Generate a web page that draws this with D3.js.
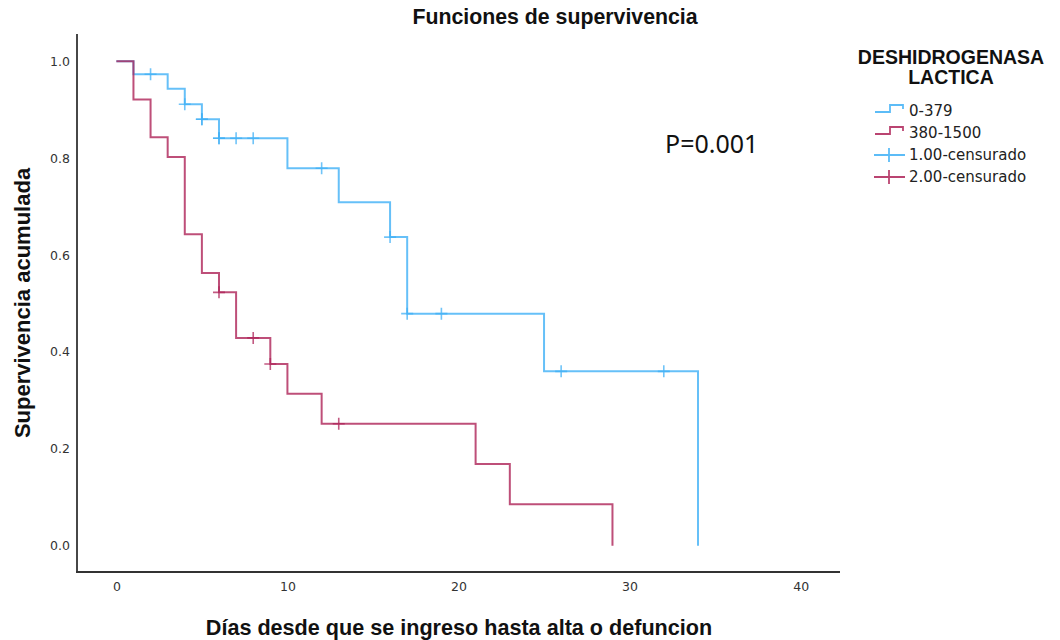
<!DOCTYPE html>
<html>
<head>
<meta charset="utf-8">
<script src="https://cdn.jsdelivr.net/npm/d3@7"></script>
<style>
	body { margin: 0; background: #fff; }
	svg text { font-family: "DejaVu Sans", sans-serif; }
	svg text.bold { font-family: "Liberation Sans", Arial, sans-serif; font-weight: bold; }
</style>
</head>
<body>
<div id="idContent"></div>
<script>
// Kaplan-Meier steps
var aBlueTimes = [0, 1, 3, 4, 5, 6, 10, 13, 16, 17, 25, 34];
var aBlueSurv = [1, 0.973, 0.943, 0.911, 0.880, 0.841, 0.779, 0.709, 0.637, 0.479, 0.360, 0];
var aBlueCensored = [2, 4, 5, 5, 6, 6, 7, 8, 12, 16, 17, 19, 26, 32];

var aRedTimes = [0, 1, 2, 3, 4, 5, 6, 7, 9, 10, 12, 21, 23, 29];
var aRedSurv = [1, 0.921, 0.843, 0.802, 0.643, 0.563, 0.523, 0.429, 0.375, 0.314, 0.252, 0.169, 0.086, 0];
var aRedCensored = [6, 8, 9, 13];

var aXTicks = [0, 10, 20, 30, 40];
var aYTicks = [0, 0.2, 0.4, 0.6, 0.8, 1.0];

var aLegendTitle = ["DESHIDROGENASA", "LACTICA"];
var aLegendLabels = ["0-379", "380-1500", "1.00-censurado", "2.00-censurado"];

var sBlue = "#40b0f6",
	sRed = "#ae2358";

var width = 1060,
	height = 640;

var svg = d3.select("#idContent").append("svg")
	.attr("width", width)
	.attr("height", height);

var x = d3.scaleLinear().domain([-2.3, 42.3]).range([77, 840]);
var y = d3.scaleLinear().domain([-0.054, 1.056]).range([572, 34]);

// axes, no tick marks
var gY = svg.append("g")
	.attr("transform", "translate(77,0)")
	.call(d3.axisLeft(y).tickValues(aYTicks).tickSize(0).tickPadding(7).tickFormat(d3.format(".1f")));
var gX = svg.append("g")
	.attr("transform", "translate(0,572)")
	.call(d3.axisBottom(x).tickValues(aXTicks).tickSize(0).tickPadding(10));
[gX, gY].forEach(function (g) {
	g.select(".domain").remove();
	g.selectAll("text")
		.style("font-family", "DejaVu Sans")
		.style("font-size", "12.5px")
		.attr("fill", "#333");
});

svg.append("line")
	.attr("x1", 77).attr("x2", 77).attr("y1", 34).attr("y2", 573)
	.attr("stroke", "#333").attr("stroke-width", 1.8);
svg.append("line")
	.attr("x1", 76).attr("x2", 840).attr("y1", 572).attr("y2", 572)
	.attr("stroke", "#333").attr("stroke-width", 1.8);

function survivalAt(aTimes, aSurv, t) {
	var s = aSurv[0];
	for (var i = 0; i < aTimes.length; i++) {
		if (aTimes[i] <= t) s = aSurv[i];
	}
	return s;
}

var stepLine = d3.line()
	.x(function (d) { return x(d.t); })
	.y(function (d) { return y(d.s); })
	.curve(d3.curveStepAfter);

function drawCurve(aTimes, aSurv, aCensored, sColor) {
	var aData = aTimes.map(function (t, i) { return { t: t, s: aSurv[i] }; });
	svg.append("path")
		.datum(aData)
		.attr("d", stepLine)
		.attr("fill", "none")
		.attr("stroke", sColor)
		.attr("stroke-opacity", 0.8)
		.attr("stroke-width", 2);

	var g = svg.append("g");
	aCensored.forEach(function (t) {
		var cx = x(t),
			cy = y(survivalAt(aTimes, aSurv, t));
		g.append("path")
			.attr("d", "M" + (cx - 6) + "," + cy + "H" + (cx + 6) + "M" + cx + "," + (cy - 6) + "V" + (cy + 6))
			.attr("stroke", sColor)
			.attr("stroke-opacity", 0.75)
			.attr("stroke-width", 1.6)
			.attr("fill", "none");
	});
}

drawCurve(aBlueTimes, aBlueSurv, aBlueCensored, sBlue);
drawCurve(aRedTimes, aRedSurv, aRedCensored, sRed);

// titles
svg.append("text")
	.attr("class", "bold")
	.attr("x", 555).attr("y", 24)
	.attr("text-anchor", "middle")
	.style("font-size", "21.3px")
	.attr("fill", "#111")
	.text("Funciones de supervivencia");

svg.append("text")
	.attr("class", "bold")
	.attr("x", 459).attr("y", 635)
	.attr("text-anchor", "middle")
	.style("font-size", "21.6px")
	.attr("fill", "#111")
	.text("Días desde que se ingreso hasta alta o defuncion");

svg.append("text")
	.attr("class", "bold")
	.attr("transform", "translate(30,303) rotate(-90)")
	.attr("text-anchor", "middle")
	.style("font-size", "22px")
	.attr("fill", "#111")
	.text("Supervivencia acumulada");

svg.append("text")
	.attr("x", 665).attr("y", 153)
	.style("font-family", "Noto Sans")
	.style("font-size", "25px")
	.attr("fill", "#111")
	.text("P=0.001");

// legend
var gLegend = svg.append("g");
aLegendTitle.forEach(function (sLine, i) {
	gLegend.append("text")
		.attr("class", "bold")
		.attr("x", 951).attr("y", 63.5 + i * 20.5)
		.attr("text-anchor", "middle")
		.style("font-size", "19.5px")
		.attr("fill", "#111")
		.text(sLine);
});

var aLegendColors = [sBlue, sRed, sBlue, sRed];
aLegendLabels.forEach(function (sLabel, i) {
	var ly = 111 + i * 22;
	var sPath = i < 2
		? "M875," + (ly + 1) + "H890V" + (ly - 6) + "H903V" + (ly - 2)
		: "M874," + ly + "H905M889," + (ly - 7) + "V" + (ly + 7);
	gLegend.append("path")
		.attr("d", sPath)
		.attr("fill", "none")
		.attr("stroke", aLegendColors[i])
		.attr("stroke-opacity", 0.85)
		.attr("stroke-width", 1.8);
	gLegend.append("text")
		.attr("x", 909).attr("y", ly)
		.attr("dy", "0.36em")
		.style("font-size", "15px")
		.attr("fill", "#222")
		.text(sLabel);
});
</script>
</body>
</html>
